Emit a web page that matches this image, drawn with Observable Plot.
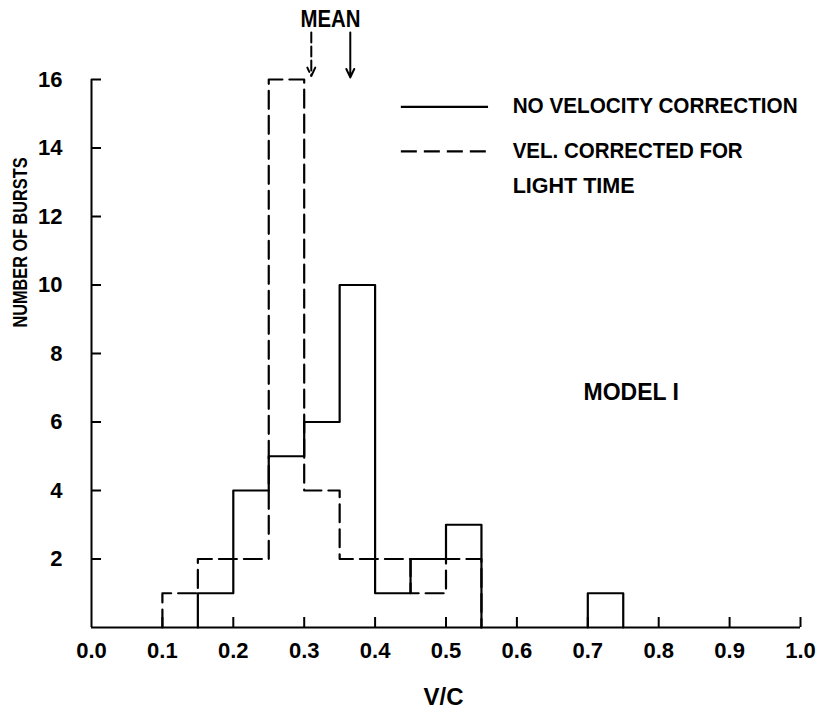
<!DOCTYPE html>
<html>
<head>
<meta charset="utf-8">
<script src="https://cdn.jsdelivr.net/npm/d3@7"></script>
<script src="https://cdn.jsdelivr.net/npm/@observablehq/plot@0.6"></script>
<style>
  html, body { margin: 0; padding: 0; background: #fff; }
  #chart svg { display: block; }
</style>
</head>
<body>
<div id="chart"></div>
<script>
// ---- data ----
const binWidth = 0.05;
const binStarts = d3.range(0, 20).map(i => +(i * binWidth).toFixed(2));
// NO VELOCITY CORRECTION (solid)
const countsUncorrected = [0, 0, 0, 1, 4, 5, 6, 10, 1, 2, 3, 0, 0, 0, 1, 0, 0, 0, 0, 0];
// VEL. CORRECTED FOR LIGHT TIME (dashed)
const countsCorrected   = [0, 0, 1, 2, 2, 16, 4, 2, 2, 1, 2, 0, 0, 0, 0, 0, 0, 0, 0, 0];
// mean values (arrows)
const meanCorrected = 0.31;
const meanUncorrected = 0.365;
const xTicks = [0, 0.1, 0.2, 0.3, 0.4, 0.5, 0.6, 0.7, 0.8, 0.9, 1.0];
const yTicks = [2, 4, 6, 8, 10, 12, 14, 16];
const legendLines = ["NO VELOCITY CORRECTION", "VEL. CORRECTED FOR", "LIGHT TIME"];

// ---- build step outlines from the bins ----
function stepOutline(counts) {
  const pts = [];
  let seg = 0, inRun = false;
  counts.forEach((c, i) => {
    const x0 = binStarts[i];
    if (c > 0) {
      if (!inRun) { seg++; pts.push({x: x0, y: 0, seg}); inRun = true; }
      pts.push({x: x0, y: c, seg});
    } else if (inRun) {
      pts.push({x: x0, y: 0, seg});
      inRun = false;
    }
  });
  if (inRun) pts.push({x: 1, y: 0, seg});
  return pts;
}
const solidPts = stepOutline(countsUncorrected);
const dashedPts = stepOutline(countsCorrected);

// ---- layout constants ----
const W = 821, H = 713;
const yPerUnit = (627 - 79) / 16;
const tickLenY = 10 / yPerUnit;   // x tick length in y units
const tickLenX = 10 / 709;        // y tick length in x units
const font = "'Liberation Sans', Arial, sans-serif";
// condensed lettering: target widths (px) for the hand-lettered texts
const textWidths = {
  "NO VELOCITY CORRECTION": 285,
  "VEL. CORRECTED FOR": 230,
  "LIGHT TIME": 122,
  "MEAN": 60,
  "NUMBER OF BURSTS": 170
};

const legendText = [
  {text: legendLines[0], y: 15.24},
  {text: legendLines[1], y: 13.92},
  {text: legendLines[2], y: 12.9}
];

const chart = Plot.plot({
  width: W,
  height: H,
  marginLeft: 91,
  marginRight: 21,
  marginTop: 79,
  marginBottom: 86,
  style: {background: "#fff", color: "#000", fontFamily: font},
  x: {domain: [0, 1]},
  y: {domain: [0, 16]},
  marks: [
    Plot.axisX({ticks: xTicks, tickSize: 0, tickPadding: 15, tickFormat: d3.format(".1f"),
      fontSize: 22, fontWeight: "bold", label: null}),
    Plot.axisY({ticks: yTicks, tickSize: 0, tickPadding: 29, fontSize: 22, fontWeight: "bold", label: null}),
    // axes lines
    Plot.ruleY([0], {stroke: "#000", strokeWidth: 2}),
    Plot.ruleX([0], {y1: 0, y2: 16, stroke: "#000", strokeWidth: 2}),
    // inward ticks
    Plot.ruleX(xTicks.slice(1), {x: d => d, y1: 0, y2: tickLenY, stroke: "#000", strokeWidth: 2}),
    Plot.ruleY(yTicks, {y: d => d, x1: 0, x2: tickLenX, stroke: "#000", strokeWidth: 2}),
    // histograms
    Plot.line(dashedPts, {x: "x", y: "y", z: "seg", curve: "step-after", stroke: "#000",
      strokeWidth: 2.2, strokeDasharray: "18,7"}),
    Plot.line(solidPts, {x: "x", y: "y", z: "seg", curve: "step-after", stroke: "#000", strokeWidth: 2.2}),
    // mean arrows
    Plot.arrow([meanCorrected], {x1: d => d, x2: d => d, y1: 17.37, y2: 16.1, stroke: "#000",
      strokeWidth: 2, strokeDasharray: "10,4", headLength: 7, headAngle: 50}),
    Plot.arrow([meanUncorrected], {x1: d => d, x2: d => d, y1: 17.37, y2: 16.06, stroke: "#000",
      strokeWidth: 2, headLength: 7, headAngle: 50}),
    Plot.text(["MEAN"], {x: 0.337, y: 17.77, text: d => d, fontSize: 24, fontWeight: "bold",
      lineAnchor: "middle"}),
    // legend
    Plot.ruleY([15.2], {x1: 0.437, x2: 0.560, stroke: "#000", strokeWidth: 2.2}),
    Plot.ruleY([13.9], {x1: 0.437, x2: 0.560, stroke: "#000", strokeWidth: 2.2, strokeDasharray: "16,7"}),
    Plot.text(legendText, {x: 0.594, y: "y", text: "text", textAnchor: "start", lineAnchor: "middle",
      fontSize: 22, fontWeight: "bold"}),
    // model label
    Plot.text(["MODEL I"], {x: 0.694, y: 6.86, text: d => d, textAnchor: "start", fontSize: 23,
      fontWeight: "bold"}),
    // axis titles
    Plot.text(["V/C"], {x: 0.4965, y: -2.03, text: d => d, fontSize: 24, fontWeight: "bold"}),
    Plot.text(["NUMBER OF BURSTS"], {frameAnchor: "left", y: 8.76, dx: -70.5, rotate: -90,
      text: d => d, fontSize: 20, fontWeight: "bold"})
  ]
});
// condense the hand-lettered labels to the reference widths
chart.querySelectorAll("text").forEach(t => {
  const w = textWidths[t.textContent];
  if (w) {
    t.setAttribute("textLength", w);
    t.setAttribute("lengthAdjust", "spacingAndGlyphs");
  }
});
document.getElementById("chart").appendChild(chart);
</script>
</body>
</html>
